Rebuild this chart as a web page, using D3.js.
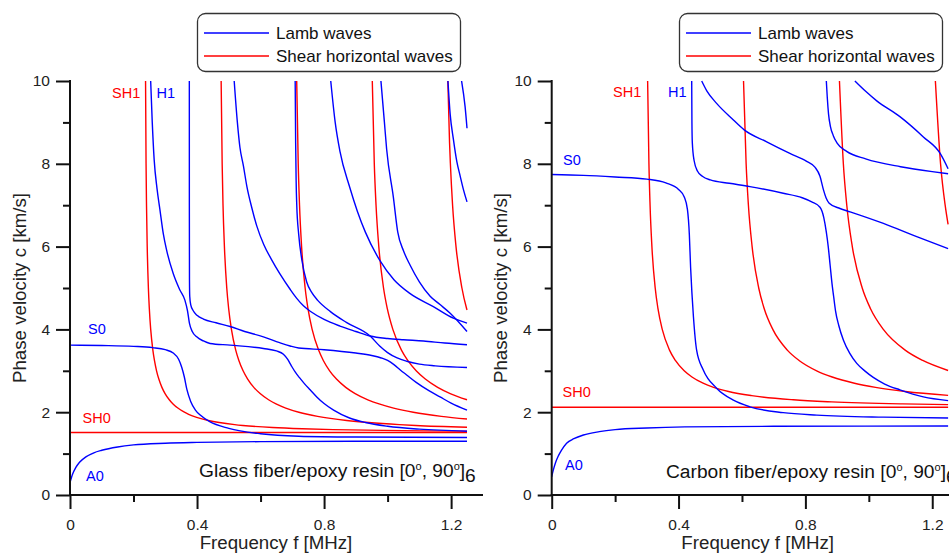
<!DOCTYPE html>
<html><head><meta charset="utf-8">
<script src="https://cdn.jsdelivr.net/npm/d3@7"></script>
<style>
body{margin:0;background:#fff}
svg{display:block}
text{font-family:"Liberation Sans",Arial,Helvetica,sans-serif}
</style>
</head><body>
<svg id="chart" width="949" height="556"></svg>
<script>
// ---------- Data: [frequency MHz, phase velocity km/s] ----------
// Glass fiber / epoxy — Lamb modes
const glassA0 = [[0,0.30],[0.008,0.5],[0.018,0.66],[0.03,0.79],[0.05,0.92],[0.075,1.02],[0.1,1.08],[0.15,1.16],[0.2,1.21],[0.3,1.25],[0.4,1.27],[0.6,1.29],[0.9,1.30],[1.25,1.30]];
const glassS0 = [[0,3.62],[0.1,3.61],[0.2,3.59],[0.26,3.56],[0.3,3.51],[0.325,3.43],[0.342,3.28],[0.352,3.08],[0.36,2.85],[0.368,2.55],[0.38,2.26],[0.395,2.05],[0.41,1.93],[0.44,1.77],[0.5,1.61],[0.6,1.48],[0.72,1.42],[0.9,1.40],[1.25,1.39]];
const glassH1 = [[0.254,10],[0.259,9.0],[0.265,8.1],[0.274,7.4],[0.283,6.9],[0.294,6.3],[0.304,5.92],[0.325,5.35],[0.346,4.95],[0.362,4.7],[0.37,4.45],[0.376,4.15],[0.385,3.95],[0.399,3.82],[0.42,3.72],[0.441,3.66],[0.504,3.62],[0.609,3.54],[0.65,3.48],[0.672,3.40],[0.685,3.28],[0.697,3.12],[0.71,2.96],[0.722,2.84],[0.738,2.69],[0.756,2.54],[0.777,2.37],[0.8,2.21],[0.83,2.05],[0.88,1.86],[0.93,1.75],[1.0,1.66],[1.1,1.59],[1.25,1.54]];
const glassL3 = [[0.3757,10],[0.3758,7],[0.3762,5.2],[0.377,4.8],[0.38,4.6],[0.388,4.45],[0.40,4.34],[0.42,4.25],[0.46,4.16],[0.504,4.07],[0.55,3.95],[0.609,3.82],[0.66,3.68],[0.693,3.60],[0.72,3.55],[0.8,3.51],[0.9,3.43],[0.95,3.37],[0.98,3.31],[1.0,3.25],[1.02,3.15],[1.04,3.02],[1.06,2.9],[1.09,2.72],[1.13,2.52],[1.165,2.37],[1.2,2.22],[1.25,2.05]];
const glassL4 = [[0.517,10],[0.527,9.0],[0.535,8.4],[0.546,7.95],[0.557,7.45],[0.572,6.95],[0.588,6.5],[0.61,6.05],[0.635,5.68],[0.661,5.34],[0.693,4.97],[0.714,4.75],[0.735,4.57],[0.76,4.42],[0.8,4.24],[0.85,4.08],[0.9,3.95],[0.945,3.84],[1.0,3.78],[1.05,3.75],[1.113,3.72],[1.18,3.67],[1.25,3.63]];
const glassL5 = [[0.709,10],[0.7105,8.5],[0.712,7.6],[0.714,7.0],[0.72,6.3],[0.73,5.68],[0.745,5.15],[0.762,4.88],[0.78,4.7],[0.82,4.43],[0.87,4.17],[0.945,3.84],[0.975,3.6],[1.0,3.44],[1.03,3.31],[1.06,3.23],[1.1,3.16],[1.15,3.12],[1.25,3.08]];
const glassL6 = [[0.821,10],[0.835,9.0],[0.85,8.3],[0.88,7.45],[0.905,6.85],[0.93,6.35],[0.976,5.66],[1.02,5.2],[1.07,4.87],[1.144,4.55],[1.207,4.27],[1.25,4.15]];
const glassL7 = [[0.979,10],[0.99,9.0],[0.997,8.35],[1.018,7.2],[1.032,6.35],[1.05,5.9],[1.071,5.55],[1.1,5.15],[1.134,4.8],[1.165,4.6],[1.197,4.39],[1.25,3.95]];
const glassL8 = [[1.19,10],[1.197,9.2],[1.207,8.6],[1.218,8.05],[1.228,7.72],[1.239,7.37],[1.25,7.08]];
const glassL9 = [[1.233,10],[1.244,9.38],[1.25,8.86]];
// Glass fiber / epoxy — SH modes
const glassSH0 = [[0,1.51],[1.25,1.51]];
const glassSH1 = [[0.2379,10],[0.2395,8],[0.2409,7],[0.2431,6],[0.2468,5],[0.2498,4.5],[0.2541,4],[0.2609,3.5],[0.2659,3.25],[0.2725,3],[0.2797,2.8],[0.2894,2.6],[0.2993,2.45],[0.3126,2.3],[0.3244,2.2],[0.3396,2.1],[0.3603,2.0],[0.3736,1.95],[0.3897,1.9],[0.4098,1.85],[0.4356,1.8],[0.4699,1.75],[0.5185,1.7],[0.5442,1.68],[0.6375,1.63],[0.7314,1.6],[0.8285,1.58],[0.9863,1.56],[1.1131,1.55],[1.25,1.543]];
const glassSH2 = [[0.4759,10],[0.4791,8],[0.4818,7],[0.4862,6],[0.4936,5],[0.4996,4.5],[0.5083,4],[0.5218,3.5],[0.5317,3.25],[0.545,3],[0.5594,2.8],[0.5788,2.6],[0.5986,2.45],[0.6252,2.3],[0.6487,2.2],[0.6793,2.1],[0.7206,2.0],[0.7471,1.95],[0.7795,1.9],[0.8197,1.85],[0.8711,1.8],[0.9398,1.75],[1.0369,1.7],[1.0884,1.68],[1.25,1.635]];
const glassSH3 = [[0.7138,10],[0.7186,8],[0.7227,7],[0.7292,6],[0.7404,5],[0.7493,4.5],[0.7624,4],[0.7827,3.5],[0.7976,3.25],[0.8175,3],[0.839,2.8],[0.8682,2.6],[0.8978,2.45],[0.9378,2.3],[0.9731,2.2],[1.0189,2.1],[1.0808,2.0],[1.1207,1.95],[1.1692,1.9],[1.25,1.835]];
const glassSH4 = [[0.9518,10],[0.9581,8],[0.9636,7],[0.9723,6],[0.9872,5],[0.9991,4.5],[1.0165,4],[1.0436,3.5],[1.0634,3.25],[1.09,3],[1.1187,2.8],[1.1576,2.6],[1.1971,2.45],[1.25,2.30]];
const glassSH5 = [[1.1897,10],[1.1951,8.5],[1.1977,8],[1.2046,7],[1.2154,6],[1.234,5],[1.2489,4.5],[1.25,4.47]];

// Carbon fiber / epoxy — Lamb modes
const carbonA0 = [[0,0.44],[0.005,0.6],[0.012,0.78],[0.02,0.93],[0.03,1.07],[0.047,1.25],[0.07,1.36],[0.1,1.45],[0.15,1.53],[0.2,1.58],[0.3,1.62],[0.42,1.645],[0.7,1.66],[1.25,1.665]];
const carbonS0 = [[0,7.74],[0.1,7.72],[0.2,7.68],[0.3,7.63],[0.36,7.54],[0.4,7.38],[0.418,7.2],[0.428,6.9],[0.434,6.3],[0.438,5.5],[0.442,4.9],[0.447,4.3],[0.457,3.5],[0.478,3.02],[0.52,2.58],[0.573,2.29],[0.625,2.13],[0.73,1.99],[0.836,1.93],[1.046,1.88],[1.25,1.86]];
const carbonH1 = [[0.4415,10],[0.4422,9.0],[0.4435,8.5],[0.449,8.08],[0.46,7.82],[0.475,7.7],[0.5,7.61],[0.56,7.53],[0.625,7.45],[0.73,7.29],[0.79,7.18],[0.82,7.08],[0.846,6.95],[0.858,6.7],[0.866,6.35],[0.872,6.0],[0.878,5.55],[0.884,5.1],[0.889,4.8],[0.895,4.45],[0.905,4.1],[0.92,3.74],[0.94,3.42],[0.962,3.18],[0.99,2.98],[1.014,2.84],[1.05,2.68],[1.098,2.54],[1.172,2.37],[1.25,2.28]];
const carbonL3 = [[0.473,10],[0.49,9.75],[0.52,9.46],[0.573,9.06],[0.607,8.82],[0.678,8.53],[0.751,8.25],[0.804,8.06],[0.83,7.92],[0.846,7.7],[0.857,7.37],[0.865,7.18],[0.875,7.05],[0.909,6.92],[0.941,6.84],[1.046,6.56],[1.151,6.24],[1.25,5.95]];
const carbonL4 = [[0.866,10],[0.869,9.6],[0.873,9.2],[0.879,8.9],[0.888,8.68],[0.9,8.5],[0.93,8.3],[0.99,8.12],[1.1,7.93],[1.2,7.81],[1.25,7.76]];
const carbonL5 = [[0.956,10],[0.99,9.75],[1.025,9.52],[1.098,9.14],[1.172,8.65],[1.225,8.25],[1.25,7.88]];
// Carbon fiber / epoxy — SH modes
const carbonSH0 = [[0,2.12],[1.25,2.12]];
const carbonSH1 = [[0.3025,10],[0.3066,8],[0.3102,7],[0.316,6],[0.3264,5],[0.3351,4.5],[0.3486,4],[0.3715,3.5],[0.39,3.25],[0.4178,3],[0.4423,2.85],[0.4773,2.7],[0.5106,2.6],[0.5577,2.5],[0.6306,2.4],[0.7622,2.3],[0.8824,2.25],[1.1063,2.2],[1.25,2.182]];
const carbonSH2 = [[0.6049,10],[0.6131,8],[0.6203,7],[0.632,6],[0.6528,5],[0.6702,4.5],[0.6972,4],[0.743,3.5],[0.78,3.25],[0.8356,3],[0.8846,2.85],[0.9547,2.7],[1.0212,2.6],[1.1155,2.5],[1.25,2.406]];
const carbonSH3 = [[0.9074,10],[0.9197,8],[0.9305,7],[0.9479,6],[0.9792,5],[1.0054,4.5],[1.0458,4],[1.1145,3.5],[1.17,3.25],[1.25,3.008]];
const carbonSH4 = [[1.2099,10],[1.2262,8],[1.2407,7],[1.25,6.535]];

// Axes ticks & labels
const yMajorTicks = [0,2,4,6,8,10];
const yMinorTicks = [1,3,5,7,9];
const xMajorTicks = [0,0.4,0.8,1.2];
const xMinorTicks = [0.2,0.6,1.0];
const legendLabels = ["Lamb waves","Shear horizontal waves"];
const xTitle = "Frequency f [MHz]";
const yTitle = "Phase velocity c [km/s]";

const panels = [
  {ox:70, xr:467, axisEnd:483, material:"Glass fiber/epoxy resin",
   lamb:[glassA0,glassS0,glassH1,glassL3,glassL4,glassL5,glassL6,glassL7,glassL8,glassL9],
   sh:[glassSH0,glassSH1,glassSH2,glassSH3,glassSH4,glassSH5],
   labels:[{t:"SH1",c:"red",x:112,y:98},{t:"H1",c:"blue",x:156.5,y:98},{t:"S0",c:"blue",x:88,y:334},{t:"SH0",c:"red",x:82.5,y:422.5},{t:"A0",c:"blue",x:86,y:480.5}],
   note:{x:199,y:477}, legendX:197.5},
  {ox:551.7, xr:948.1, axisEnd:960, material:"Carbon fiber/epoxy resin",
   lamb:[carbonA0,carbonS0,carbonH1,carbonL3,carbonL4,carbonL5],
   sh:[carbonSH0,carbonSH1,carbonSH2,carbonSH3,carbonSH4],
   labels:[{t:"SH1",c:"red",x:613,y:97},{t:"H1",c:"blue",x:668,y:97},{t:"S0",c:"blue",x:563,y:165},{t:"SH0",c:"red",x:562.5,y:396.5},{t:"A0",c:"blue",x:565,y:470}],
   note:{x:666,y:477.5}, legendX:679.5}
];

const BLUE = "#0000ff", RED = "#ff0000", INK = "#111";
const svg = d3.select("#chart");
const y = d3.scaleLinear().domain([0,10]).range([495,81]);

panels.forEach((p,i) => {
  const x = d3.scaleLinear().domain([0,1.25]).range([p.ox,p.xr]);
  const g = svg.append("g");
  const cid = "clip"+i;
  svg.append("clipPath").attr("id",cid).append("rect")
    .attr("x",p.ox).attr("y",80).attr("width",p.xr-p.ox+1).attr("height",416);

  const line = d3.line().x(d=>x(d[0])).y(d=>y(d[1])).curve(d3.curveMonotoneX);
  const plot = g.append("g").attr("clip-path",`url(#${cid})`);
  plot.selectAll("path.sh").data(p.sh).join("path").attr("class","sh")
    .attr("d",line).attr("fill","none").attr("stroke",RED).attr("stroke-width",1.4);
  plot.selectAll("path.lamb").data(p.lamb).join("path").attr("class","lamb")
    .attr("d",line).attr("fill","none").attr("stroke",BLUE).attr("stroke-width",1.4);

  // Y axis
  const yAx = g.append("g").attr("transform",`translate(${p.ox},0)`)
    .call(d3.axisLeft(y).tickValues(yMajorTicks).tickSize(14).tickSizeOuter(0).tickPadding(6).tickFormat(d3.format("d")));
  yAx.select(".domain").remove();
  yAx.selectAll(".tick line").attr("stroke",INK).attr("stroke-width",2);
  yAx.selectAll(".tick text").attr("fill","#222").style("font-size","15.5px");
  g.append("g").attr("transform",`translate(${p.ox},0)`)
    .call(d3.axisLeft(y).tickValues(yMinorTicks).tickSize(7).tickSizeOuter(0).tickFormat(""))
    .call(a=>{a.select(".domain").remove(); a.selectAll(".tick line").attr("stroke",INK).attr("stroke-width",2);});
  g.append("line").attr("x1",p.ox).attr("x2",p.ox).attr("y1",80).attr("y2",496)
    .attr("stroke",INK).attr("stroke-width",2);

  // X axis
  const xAx = g.append("g").attr("transform","translate(0,495)")
    .call(d3.axisBottom(x).tickValues(xMajorTicks).tickSize(14).tickSizeOuter(0).tickPadding(10).tickFormat(d=>d===0?"0":d3.format(".1f")(d)));
  xAx.select(".domain").remove();
  xAx.selectAll(".tick line").attr("stroke",INK).attr("stroke-width",2);
  xAx.selectAll(".tick text").attr("fill","#222").style("font-size","15.5px");
  g.append("g").attr("transform","translate(0,495)")
    .call(d3.axisBottom(x).tickValues(xMinorTicks).tickSize(7).tickSizeOuter(0).tickFormat(""))
    .call(a=>{a.select(".domain").remove(); a.selectAll(".tick line").attr("stroke",INK).attr("stroke-width",2);});
  g.append("line").attr("x1",p.ox-1).attr("x2",p.axisEnd).attr("y1",495).attr("y2",495)
    .attr("stroke",INK).attr("stroke-width",2);

  // Titles
  g.append("text").attr("x",p.ox+206).attr("y",549).attr("text-anchor","middle")
    .attr("fill","#222").style("font-size","18.7px").text(xTitle);
  g.append("text").attr("transform",`translate(${p.ox-44.5},288) rotate(-90)`).attr("text-anchor","middle")
    .attr("fill","#222").style("font-size","18.7px").text(yTitle);

  // Mode labels
  g.selectAll("text.lbl").data(p.labels).join("text").attr("class","lbl")
    .attr("x",d=>d.x).attr("y",d=>d.y).attr("fill",d=>d.c==="red"?RED:BLUE)
    .style("font-size","14.5px").text(d=>d.t);

  // Material note
  const nt = g.append("text").attr("x",p.note.x).attr("y",p.note.y).attr("fill","#111").style("font-size","19.2px");
  nt.append("tspan").text(p.material+" [0");
  nt.append("tspan").attr("dy",-7).style("font-size","11px").text("o");
  nt.append("tspan").attr("dy",7).text(", 90");
  nt.append("tspan").attr("dy",-7).style("font-size","11px").text("o");
  nt.append("tspan").attr("dy",7).text("]");
  nt.append("tspan").attr("dy",5).text("6");

  // Legend
  const lg = g.append("g").attr("transform",`translate(${p.legendX},13.5)`);
  lg.append("rect").attr("width",263).attr("height",58).attr("rx",8).attr("ry",8)
    .attr("fill","#fff").attr("stroke","#333").attr("stroke-width",1.3);
  [BLUE,RED].forEach((col,k)=>{
    const yy = k===0?19.5:42.5;
    lg.append("line").attr("x1",6.5).attr("x2",71.5).attr("y1",yy).attr("y2",yy)
      .attr("stroke",col).attr("stroke-width",1.4);
    lg.append("text").attr("x",78.5).attr("y",yy+5.6).attr("fill","#111")
      .style("font-size","17px").text(legendLabels[k]);
  });
});
</script>
</body></html>
